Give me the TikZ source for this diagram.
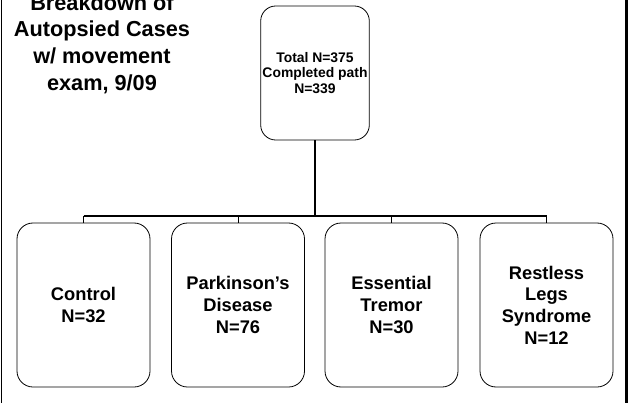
\documentclass[tikz,border=0pt]{standalone}
\usepackage{fontspec}
\setmainfont{Liberation Sans}
\begin{document}
\begin{tikzpicture}[x=1pt,y=-1pt,
  box/.style={draw=black, line width=0.8pt, rounded corners=16pt, align=center,
    font=\bfseries\fontsize{18.3}{21.7}\selectfont, minimum width=133pt, minimum height=164pt, inner sep=0pt},
  topbox/.style={draw=black, line width=0.8pt, rounded corners=15pt, align=center,
    font=\bfseries\fontsize{13.9}{15.8}\selectfont, minimum width=108.6pt, minimum height=134pt, inner sep=0pt},
  conn/.style={draw=black, line width=1.6pt},
  drop/.style={draw=black, line width=1pt}]
\useasboundingbox (0,0) rectangle (628,403);
\clip (0,0) rectangle (628,403);
\fill[white] (0,0) rectangle (628,403);
% frame side lines
\draw[line width=1.2pt] (1.6,0) -- (1.6,403);
\draw[line width=2.6pt] (626.7,0) -- (626.7,403);
% title
\node[align=center, font=\bfseries\fontsize{21.7}{26.6}\selectfont, inner sep=0pt] (title) at (102,44)
  {Breakdown of\\Autopsied Cases\\w/ movement\\exam, 9/09};
% top box
\node[topbox] (top) at (315,73) {Total N=375\\Completed path\\N=339};
% bottom boxes
\node[box] (c1) at (83.5,305) {Control\\N=32};
\node[box] (c2) at (238,305) {Parkinson’s\\Disease\\N=76};
\node[box] (c3) at (391.5,305) {Essential\\Tremor\\N=30};
\node[box] (c4) at (546.5,305) {Restless\\Legs\\Syndrome\\N=12};
\coordinate (j) at (315,216);
% connectors
\draw[conn] (top.south) -- (j);
\draw[conn] (c1.north |- j) -- (c4.north |- j);
\draw[drop] (c1.north) -- (c1.north |- j);
\draw[drop] (c2.north) -- (c2.north |- j);
\draw[drop] (c3.north) -- (c3.north |- j);
\draw[drop] (c4.north) -- (c4.north |- j);
\end{tikzpicture}
\end{document}
